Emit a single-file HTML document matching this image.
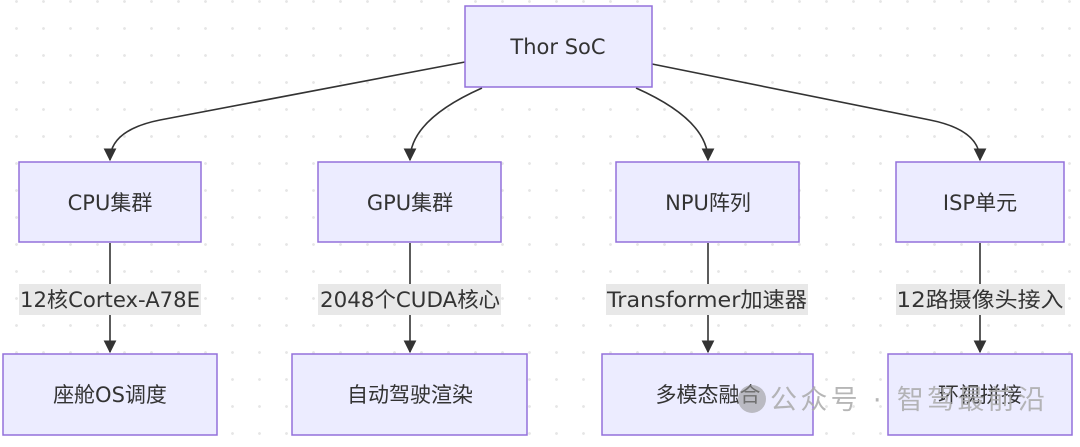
<!DOCTYPE html>
<html><head><meta charset="utf-8"><style>
html,body{margin:0;padding:0;background:#fff;}
body{width:1080px;height:442px;overflow:hidden;
background-image:radial-gradient(circle,#e6e6e6 1.2px,transparent 1.6px);background-size:27px 27px;background-position:3px -12px;}
text{font-family:"DejaVu Sans","Noto Sans CJK SC",sans-serif;font-size:21px;fill:#333;}
</style></head><body>
<svg width="1080" height="442" viewBox="0 0 1080 442" xmlns="http://www.w3.org/2000/svg">
<defs><marker id="a" viewBox="0 0 10 10" refX="9" refY="5" markerWidth="8" markerHeight="8" orient="auto"><path d="M0,0L10,5L0,10z" fill="#333"/></marker></defs>
<g fill="none" stroke="#333" stroke-width="1.6">
<path d="M465,62 L160,120 Q110,130 110,160" marker-end="url(#a)"/>
<path d="M482,88 Q410,120 410,160" marker-end="url(#a)"/>
<path d="M636,88 Q708,120 708,160" marker-end="url(#a)"/>
<path d="M652,64 L930,120 Q980,130 980,160" marker-end="url(#a)"/>
<path d="M110,243 V352" marker-end="url(#a)"/>
<path d="M410,243 V352" marker-end="url(#a)"/>
<path d="M708,243 V352" marker-end="url(#a)"/>
<path d="M980,243 V352" marker-end="url(#a)"/>
</g>
<g fill="#ececff" stroke="#9370db" stroke-width="1.5">
<rect x="465" y="6" width="187" height="81"/>
<rect x="19" y="162" width="182" height="80"/>
<rect x="318" y="162" width="183" height="80"/>
<rect x="616" y="162" width="183" height="80"/>
<rect x="896" y="162" width="168" height="80"/>
<rect x="3" y="354" width="214" height="81"/>
<rect x="292" y="354" width="235" height="81"/>
<rect x="602" y="354" width="211" height="81"/>
<rect x="888" y="354" width="184" height="81"/>
</g>
<g fill="#e8e8e8">
<rect x="19" y="284" width="182" height="31"/>
<rect x="318" y="284" width="183" height="31"/>
<rect x="606" y="284" width="202" height="31"/>
<rect x="896" y="284" width="169" height="31"/>
</g>
<g text-anchor="middle">
<text x="558" y="54">Thor SoC</text>
<text x="110" y="210">CPU集群</text>
<text x="410" y="210">GPU集群</text>
<text x="708" y="210">NPU阵列</text>
<text x="980" y="210">ISP单元</text>
<text x="110" y="307" textLength="180" lengthAdjust="spacingAndGlyphs">12核Cortex-A78E</text>
<text x="410" y="307" textLength="180" lengthAdjust="spacingAndGlyphs">2048个CUDA核心</text>
<text x="707" y="307" textLength="200" lengthAdjust="spacingAndGlyphs">Transformer加速器</text>
<text x="980" y="307" textLength="167" lengthAdjust="spacingAndGlyphs">12路摄像头接入</text>
<text x="110" y="402">座舱OS调度</text>
<text x="410" y="402">自动驾驶渲染</text>
<text x="708" y="402">多模态融合</text>
<text x="980" y="402">环视拼接</text>
</g>
<circle cx="752" cy="399" r="14" fill="#999" opacity="0.6"/>
<text x="770" y="409" textLength="275" style="fill:#aaa;font-size:27px;opacity:0.85">公众号 · 智驾最前沿</text>
</svg>
</body></html>
